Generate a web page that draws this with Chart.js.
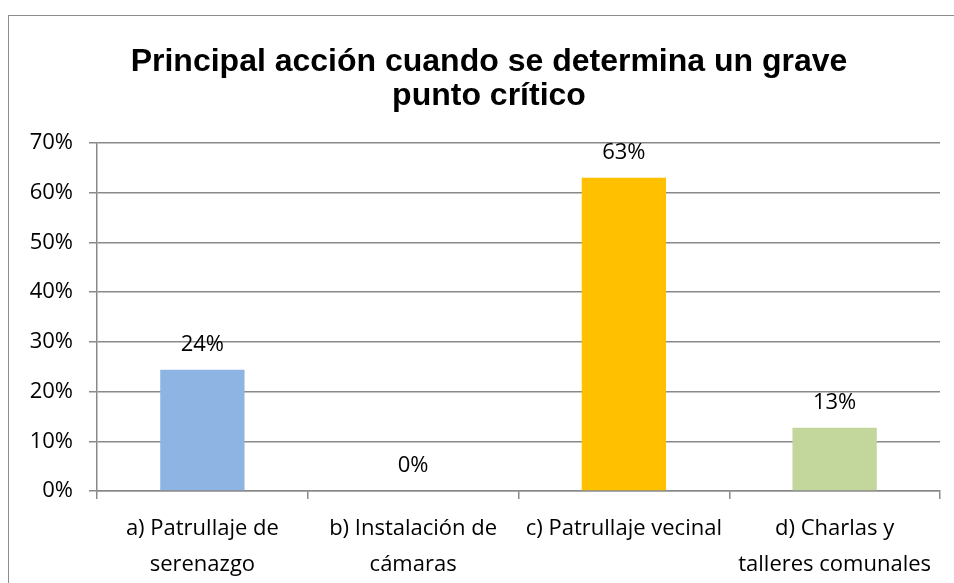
<!DOCTYPE html>
<html>
<head>
<meta charset="utf-8">
<script src="https://cdn.jsdelivr.net/npm/chart.js@4/dist/chart.umd.min.js"></script>
<style>
html,body{margin:0;padding:0;background:#fff;}
#wrap{width:954px;height:583px;position:relative;}
</style>
</head>
<body>
<div id="wrap"><canvas id="c" width="954" height="583"></canvas></div>
<script>
const titleLines = ["Principal acción cuando se determina un grave", "punto crítico"];
const categories = [["a) Patrullaje de", "serenazgo"], ["b) Instalación de", "cámaras"], "c) Patrullaje vecinal", ["d) Charlas y", "talleres comunales"]];
const values = [24.4, 0, 63.0, 12.7];
const barColors = ["#8EB4E3", "#8EB4E3", "#FFC000", "#C3D69B"];
const yTicks = [0, 10, 20, 30, 40, 50, 60, 70];

const FONT = "'Open Sans', sans-serif";
const GRID = "#898989";

const frame = {
  id: 'frame',
  beforeDraw(chart) {
    const ctx = chart.ctx;
    ctx.save();
    ctx.fillStyle = '#fff';
    ctx.fillRect(0, 0, chart.width, chart.height);
    ctx.strokeStyle = '#8c8c8c';
    ctx.lineWidth = 1;
    ctx.strokeRect(8.5, 15.5, 980, 620);
    ctx.restore();
  }
};

// the original chart frame extends past the right edge, so its title is centred a bit right of the canvas centre
const titleShift = {
  id: 'titleShift',
  afterLayout(chart) {
    const t = chart.titleBlock;
    if (t) { t.left = 38; t.right = 940; }
  }
};

const dataLabels = {
  id: 'dataLabels',
  afterDatasetsDraw(chart) {
    const ctx = chart.ctx;
    const meta = chart.getDatasetMeta(0);
    ctx.save();
    ctx.font = "22px " + FONT;
    ctx.fillStyle = '#000';
    ctx.textAlign = 'center';
    ctx.textBaseline = 'middle';
    meta.data.forEach((bar, i) => {
      ctx.fillText(Math.round(values[i]) + '%', bar.x, bar.y - 25);
    });
    ctx.restore();
  }
};

new Chart(document.getElementById('c'), {
  type: 'bar',
  data: {
    labels: categories,
    datasets: [{
      data: values,
      backgroundColor: barColors,
      borderWidth: 0,
      barPercentage: 0.4,
      categoryPercentage: 1.0
    }]
  },
  options: {
    responsive: false,
    animation: false,
    layout: { padding: { left: 0, right: 14, top: 0, bottom: 0 } },
    plugins: {
      legend: { display: false },
      tooltip: { enabled: false },
      title: {
        display: true,
        text: titleLines,
        color: '#000',
        font: { family: "'Liberation Sans', Arial, sans-serif", size: 32, weight: 'bold', lineHeight: 1.0625 },
        padding: { top: 45, bottom: 30 }
      }
    },
    scales: {
      y: {
        min: 0, max: 70,
        afterFit(s) { s.width = 97; },
        afterBuildTicks(s) { s.ticks = yTicks.map(v => ({ value: v })); },
        ticks: {
          color: '#000',
          font: { family: FONT, size: 22 },
          padding: 16,
          callback: v => v + '%'
        },
        grid: { color: GRID, lineWidth: 1.5, tickLength: 8, drawTicks: true },
        border: { color: GRID, width: 1.5 }
      },
      x: {
        afterFit(s) { s.height = 92; },
        ticks: {
          color: '#000',
          font: { family: FONT, size: 22, lineHeight: 1.64 },
          padding: 12,
          maxRotation: 0,
          autoSkip: false
        },
        grid: { offset: true, drawOnChartArea: false, drawTicks: true, tickLength: 8, color: GRID, lineWidth: 1.5 },
        border: { color: GRID, width: 1.5 }
      }
    }
  },
  plugins: [frame, titleShift, dataLabels]
});
</script>
</body>
</html>
